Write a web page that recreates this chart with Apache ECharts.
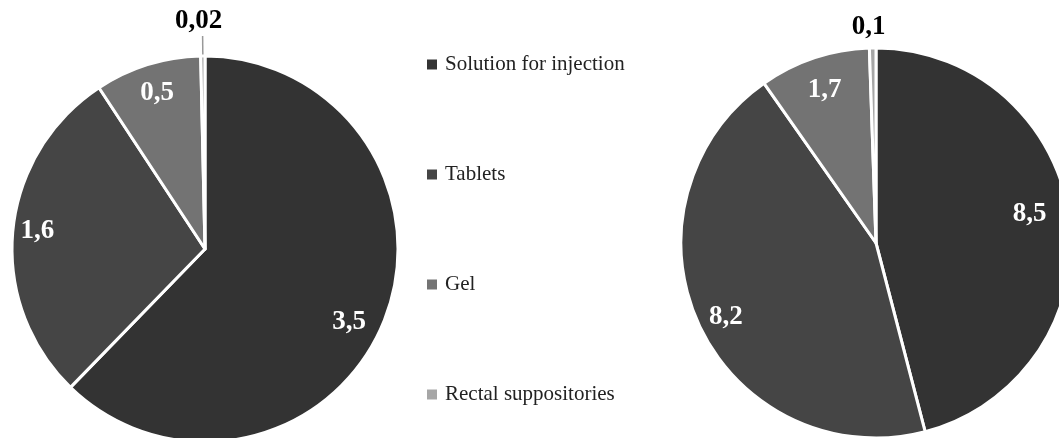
<!DOCTYPE html>
<html>
<head>
<meta charset="utf-8">
<script src="https://cdn.jsdelivr.net/npm/echarts@6/dist/echarts.min.js"></script>
<style>
html,body{margin:0;padding:0;background:#fff;}
#chart{width:1059px;height:438px;}
</style>
</head>
<body>
<div id="chart"></div>
<script>
var categories = ['Solution for injection', 'Tablets', 'Gel', 'Rectal suppositories'];
var leftValues = [3.5, 1.6, 0.5, 0.02];
var rightValues = [8.5, 8.2, 1.7, 0.1];
var leftLabels = ['3,5', '1,6', '0,5', '0,02'];
var rightLabels = ['8,5', '8,2', '1,7', '0,1'];
var colors = ['#333333', '#454545', '#737373', '#a6a6a6'];

// label nudges (layout only, pixels) to mimic the original "best fit" placement
var leftNudge = [[-11, 10], [-1, -2], [2, 4], [-4, 1]];
var rightNudge = [[-7, -8], [-3, 6], [0, 1], [-4, 5]];

var FONT = '"Liberation Serif", "Times New Roman", serif';

function mainData(values, labels, smallIdx, showLine) {
  return values.map(function (v, i) {
    var small = i === smallIdx;
    return {
      name: categories[i],
      value: v,
      itemStyle: { color: colors[i] },
      label: { show: small, formatter: labels[i] },
      labelLine: { show: small && showLine }
    };
  });
}
function overlayData(values, labels, smallIdx) {
  return values.map(function (v, i) {
    return {
      name: categories[i],
      value: v,
      label: { show: i !== smallIdx, formatter: labels[i] }
    };
  });
}

function nudger(nudge, extraDy) {
  return function (p) {
    var n = nudge[p.dataIndex] || [0, 0];
    var o = { dx: n[0], dy: n[1] + (extraDy || 0) };
    if (extraDy) { o.align = 'center'; o.verticalAlign = 'bottom'; }
    return o;
  };
}

function mainSeries(center, r, values, labels, lineLen, showLine, nudge) {
  return {
    type: 'pie',
    center: center,
    radius: [0, r],
    startAngle: 90,
    clockwise: true,
    silent: true,
    avoidLabelOverlap: false,
    itemStyle: { borderColor: '#ffffff', borderWidth: 3 },
    label: {
      position: 'outside',
      color: '#000',
      fontFamily: FONT,
      fontWeight: 'bold',
      fontSize: 27,
      lineHeight: 27,
      overflow: 'none',
      distanceToLabelLine: 0
    },
    labelLine: {
      length: lineLen,
      length2: 0,
      lineStyle: { color: '#999999', width: 1.5 }
    },
    labelLayout: nudger(nudge, -2),
    data: mainData(values, labels, 3, showLine)
  };
}

function overlaySeries(center, r0, r, values, labels, nudge) {
  return {
    type: 'pie',
    center: center,
    radius: [r0, r],
    startAngle: 90,
    clockwise: true,
    silent: true,
    avoidLabelOverlap: false,
    itemStyle: { color: 'rgba(0,0,0,0)', borderWidth: 0 },
    label: {
      position: 'inside',
      color: '#ffffff',
      fontFamily: FONT,
      fontWeight: 'bold',
      fontSize: 27,
      overflow: 'none'
    },
    labelLine: { show: false },
    labelLayout: nudger(nudge, 0),
    data: overlayData(values, labels, 3)
  };
}

var chart = echarts.init(document.getElementById('chart'), null, { renderer: 'canvas' });
chart.setOption({
  animation: false,
  backgroundColor: '#ffffff',
  legend: {
    orient: 'vertical',
    left: 422,
    top: 49,
    itemWidth: 10,
    itemHeight: 10,
    itemGap: 89,
    icon: 'rect',
    itemStyle: { borderWidth: 0 },
    textStyle: { fontFamily: FONT, fontSize: 21, color: '#222222', padding: [0, 0, 0, 3] },
    data: categories
  },
  series: [
    mainSeries([205, 249], 193, leftValues, leftLabels, 20, true, leftNudge),
    mainSeries([876, 243], 195, rightValues, rightLabels, 10, false, rightNudge),
    overlaySeries([205, 249], 119, 210, leftValues, leftLabels, leftNudge),
    overlaySeries([876, 243], 109, 209, rightValues, rightLabels, rightNudge)
  ]
});
</script>
</body>
</html>
